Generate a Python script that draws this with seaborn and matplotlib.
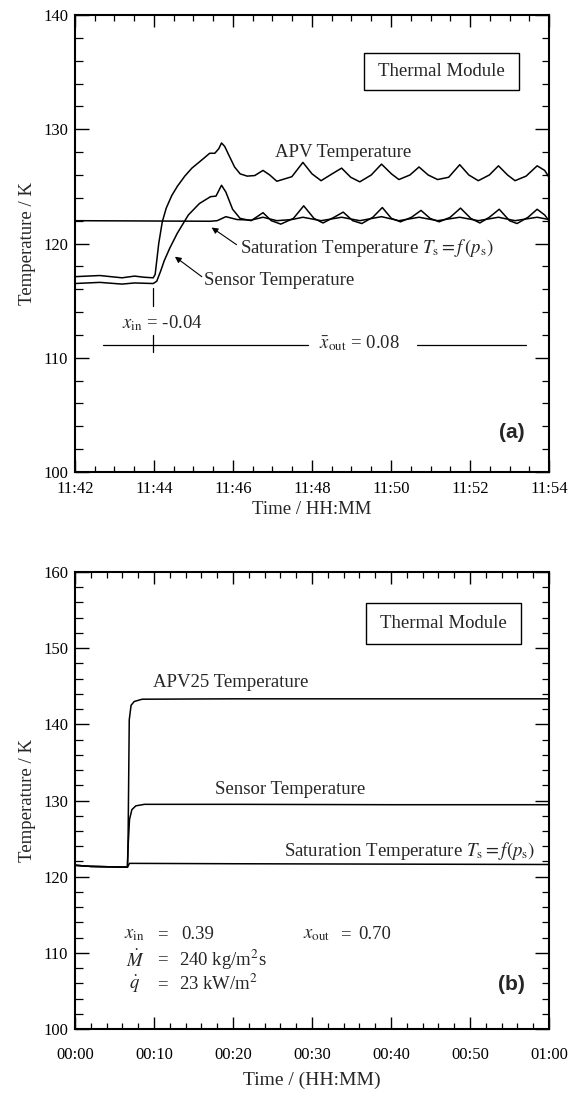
import numpy as np
import pandas as pd
import matplotlib
matplotlib.use("Agg")
import matplotlib.pyplot as plt
import seaborn as sns
from matplotlib.ticker import MultipleLocator
from matplotlib.patches import Rectangle

# ---------------- Panel (a) data: minutes after 11:42 ----------------
apv_a_t = [0.0, 0.63, 0.91, 1.19, 1.51, 1.75, 1.98, 2.03, 2.07, 2.12, 2.21, 2.31, 2.45, 2.59,
           2.78, 2.96, 3.24, 3.41, 3.54, 3.64, 3.71, 3.79, 3.90, 4.04, 4.18, 4.36, 4.55, 4.76,
           4.93, 5.11, 5.49, 5.77, 6.00, 6.23, 6.51, 6.75, 6.98, 7.21, 7.50, 7.76, 8.01, 8.20,
           8.48, 8.71, 8.94, 9.18, 9.46, 9.74, 9.97, 10.21, 10.49, 10.72, 10.95, 11.14, 11.42,
           11.70, 11.89, 12.0]
apv_a_T = [117.1, 117.2, 117.1, 117.0, 117.15, 117.05, 117.0, 117.3, 118.5, 120.0, 121.9, 123.1,
           124.2, 125.0, 125.9, 126.6, 127.4, 127.9, 127.9, 128.3, 128.8, 128.5, 127.7, 126.7,
           126.1, 125.9, 125.95, 126.4, 126.0, 125.45, 125.85, 127.1, 126.1, 125.5, 126.1, 126.6,
           125.8, 125.4, 126.0, 126.95, 126.1, 125.6, 126.0, 126.7, 126.0, 125.6, 125.8, 126.9,
           126.0, 125.5, 126.0, 126.8, 126.0, 125.5, 125.9, 126.8, 126.4, 125.8]

sen_a_t = [0.0, 0.63, 1.19, 1.51, 1.98, 2.07, 2.17, 2.26, 2.40, 2.59, 2.87, 3.15, 3.43, 3.57,
           3.71, 3.82, 3.99, 4.18, 4.46, 4.76, 4.97, 5.21, 5.53, 5.79, 6.05, 6.28, 6.56, 6.79,
           7.03, 7.26, 7.54, 7.78, 8.01, 8.24, 8.52, 8.76, 8.99, 9.22, 9.50, 9.76, 10.02, 10.25,
           10.49, 10.74, 11.00, 11.19, 11.47, 11.70, 11.89, 12.0]
sen_a_T = [116.5, 116.6, 116.45, 116.55, 116.5, 116.7, 117.6, 118.5, 119.6, 120.9, 122.5, 123.5,
           124.1, 124.15, 125.1, 124.5, 123.0, 122.2, 122.0, 122.7, 122.0, 121.7, 122.2, 123.3,
           122.2, 121.8, 122.3, 122.75, 122.0, 121.75, 122.3, 123.15, 122.2, 121.9, 122.3, 122.9,
           122.2, 121.9, 122.3, 123.1, 122.2, 121.8, 122.3, 123.0, 122.0, 121.75, 122.3, 123.0,
           122.5, 122.0]

sat_a_t = [0.0, 3.43, 3.60, 3.82, 4.10, 4.46, 4.76, 5.11, 5.49, 5.77, 6.23, 6.75, 7.21, 7.76,
           8.20, 8.71, 9.18, 9.74, 10.21, 10.72, 11.14, 11.70, 12.0]
sat_a_T = [122.0, 121.95, 122.0, 122.35, 122.1, 122.05, 122.3, 122.0, 122.1, 122.3, 122.0, 122.3,
           122.0, 122.35, 122.0, 122.3, 122.0, 122.3, 122.0, 122.3, 122.0, 122.3, 122.1]

xt_a_pos = [0, 2, 4, 6, 8, 10, 12]
xt_a_lab = ["11:42", "11:44", "11:46", "11:48", "11:50", "11:52", "11:54"]

# ---------------- Panel (b) data: minutes after 00:00 ----------------
apv_b_t = [0.0, 2.0, 6.64, 6.72, 6.87, 7.1, 7.5, 8.5, 20.0, 40.0, 60.0]
apv_b_T = [121.5, 121.35, 121.25, 124.8, 140.6, 142.5, 143.0, 143.3, 143.35, 143.35, 143.35]

sen_b_t = [0.0, 2.0, 6.64, 6.75, 6.9, 7.2, 7.7, 8.8, 20.0, 40.0, 60.0]
sen_b_T = [121.5, 121.35, 121.25, 124.5, 127.5, 128.8, 129.3, 129.5, 129.5, 129.45, 129.45]

sat_b_t = [0.0, 2.0, 6.64, 6.9, 20.0, 40.0, 60.0]
sat_b_T = [121.5, 121.35, 121.25, 121.75, 121.7, 121.65, 121.6]

xt_b_pos = [0, 10, 20, 30, 40, 50, 60]
xt_b_lab = ["00:00", "00:10", "00:20", "00:30", "00:40", "00:50", "01:00"]

# ---------------- style ----------------
sns.set_style("ticks")
plt.rcParams["font.family"] = ["Liberation Serif", "DejaVu Serif"]
plt.rcParams["mathtext.fontset"] = "stix"

FS = 13.5
fig = plt.figure(figsize=(5.79, 10.96), dpi=100)
axA = fig.add_axes([0.1295, 0.5693, 0.8187, 0.417])
axB = fig.add_axes([0.1295, 0.0611, 0.8187, 0.417])


def draw(ax, t, T):
    df = pd.DataFrame({"t": t, "T": T})
    sns.lineplot(data=df, x="t", y="T", ax=ax, color="black", linewidth=1.1,
                 estimator=None, sort=False, legend=False)


def style(ax, xmin_step, ymaj, ymin_step, xpad):
    for s in ax.spines.values():
        s.set_visible(True)
        s.set_linewidth(1.5)
        s.set_color("black")
    ax.xaxis.set_minor_locator(MultipleLocator(xmin_step))
    ax.yaxis.set_major_locator(MultipleLocator(ymaj))
    ax.yaxis.set_minor_locator(MultipleLocator(ymin_step))
    ax.tick_params(which="both", direction="in", top=True, right=True, colors="black")
    ax.tick_params(axis="x", which="major", length=8.6, width=1.0, pad=xpad, labelsize=12)
    ax.tick_params(axis="x", which="minor", length=4.3, width=0.9)
    ax.tick_params(axis="y", which="major", length=10, width=1.0, pad=5, labelsize=12)
    ax.tick_params(axis="y", which="minor", length=5.4, width=0.9)
    ax.set_ylabel("Temperature / K", fontsize=FS, labelpad=5)


ARROW = dict(arrowstyle="-|>", color="black", lw=0.8, mutation_scale=9, shrinkA=0, shrinkB=0)

# ---------------- Panel (a) ----------------
for t, T in [(apv_a_t, apv_a_T), (sen_a_t, sen_a_T), (sat_a_t, sat_a_T)]:
    draw(axA, t, T)
axA.set_xlim(0, 12)
axA.set_ylim(100, 140)
axA.set_xticks(xt_a_pos, xt_a_lab)
style(axA, 0.5, 10, 2, 6.5)
axA.set_xlabel("Time / HH:MM", fontsize=FS, labelpad=3)

axA.text(6.80, 127.94, "APV Temperature", fontsize=FS, ha="center", va="center")
axA.annotate("", xy=(3.46, 121.4), xytext=(4.09, 119.9), arrowprops=ARROW)
axA.text(4.18, 119.6, r"Saturation Temperature $T_{\rm s} = f\,(p_{\rm s})$", fontsize=FS,
         ha="left", va="center")
axA.annotate("", xy=(2.53, 118.85), xytext=(3.21, 117.1), arrowprops=ARROW)
axA.text(3.27, 116.8, "Sensor Temperature", fontsize=FS, ha="left", va="center")
axA.plot([1.98, 1.98], [114.5, 116.1], color="black", lw=0.9)
axA.plot([1.98, 1.98], [110.5, 112.0], color="black", lw=0.9)
axA.plot([0.72, 5.91], [111.1, 111.1], color="black", lw=0.9)
axA.plot([8.66, 11.42], [111.1, 111.1], color="black", lw=0.9)
axA.text(1.19, 113.0, r"$x_{\rm in}$ = -0.04", fontsize=FS, ha="left", va="center")
axA.text(6.19, 111.3, r"$\bar{x}_{\rm out}$ = 0.08", fontsize=FS, ha="left", va="center")
axA.text(11.06, 103.5, "(a)", fontsize=15, fontweight="bold", family="Liberation Sans",
         ha="center", va="center")
axA.add_patch(Rectangle((0.61, 0.836), 0.326, 0.0815, transform=axA.transAxes,
                        fc="white", ec="black", lw=1.0, zorder=3))
axA.text(0.773, 0.877, "Thermal Module", transform=axA.transAxes, fontsize=FS,
         ha="center", va="center", zorder=4)

# ---------------- Panel (b) ----------------
for t, T in [(apv_b_t, apv_b_T), (sen_b_t, sen_b_T), (sat_b_t, sat_b_T)]:
    draw(axB, t, T)
axB.set_xlim(0, 60)
axB.set_ylim(100, 160)
axB.set_xticks(xt_b_pos, xt_b_lab)
style(axB, 2, 10, 2, 13)
axB.set_xlabel("Time / (HH:MM)", fontsize=FS + 0.5, labelpad=6)

axB.text(9.9, 145.47, "APV25 Temperature", fontsize=FS, ha="left", va="center")
axB.text(17.76, 131.47, "Sensor Temperature", fontsize=FS, ha="left", va="center")
axB.text(58.27, 123.4, r"Saturation Temperature $T_{\rm s} = f(p_{\rm s})$", fontsize=FS,
         ha="right", va="center")
rows_sym = [r"$x_{\rm in}$", r"$\dot{M}$", r"$\dot{q}$"]
rows_x = [6.17, 6.4, 6.87]
rows_val = ["0.39", r"240 kg/m$^{2}$s", r"23 kW/m$^{2}$"]
rows_vx = [13.41, 13.18, 13.18]
rows_y = [112.43, 109.06, 105.87]
for s, sx, v, vx, y in zip(rows_sym, rows_x, rows_val, rows_vx, rows_y):
    axB.text(sx, y, s, fontsize=FS, ha="left", va="center")
    axB.text(11.07, y, "=", fontsize=FS, ha="center", va="center")
    axB.text(vx, y, v, fontsize=FS, ha="left", va="center")
axB.text(28.83, 112.43, r"$x_{\rm out}$", fontsize=FS, ha="left", va="center")
axB.text(34.2, 112.43, "=", fontsize=FS, ha="center", va="center")
axB.text(35.84, 112.43, "0.70", fontsize=FS, ha="left", va="center")
axB.text(55.2, 105.8, "(b)", fontsize=15, fontweight="bold", family="Liberation Sans",
         ha="center", va="center")
axB.add_patch(Rectangle((0.614, 0.843), 0.326, 0.09, transform=axB.transAxes,
                        fc="white", ec="black", lw=1.0, zorder=3))
axB.text(0.777, 0.888, "Thermal Module", transform=axB.transAxes, fontsize=FS,
         ha="center", va="center", zorder=4)

fig.savefig("out.png", dpi=100)
